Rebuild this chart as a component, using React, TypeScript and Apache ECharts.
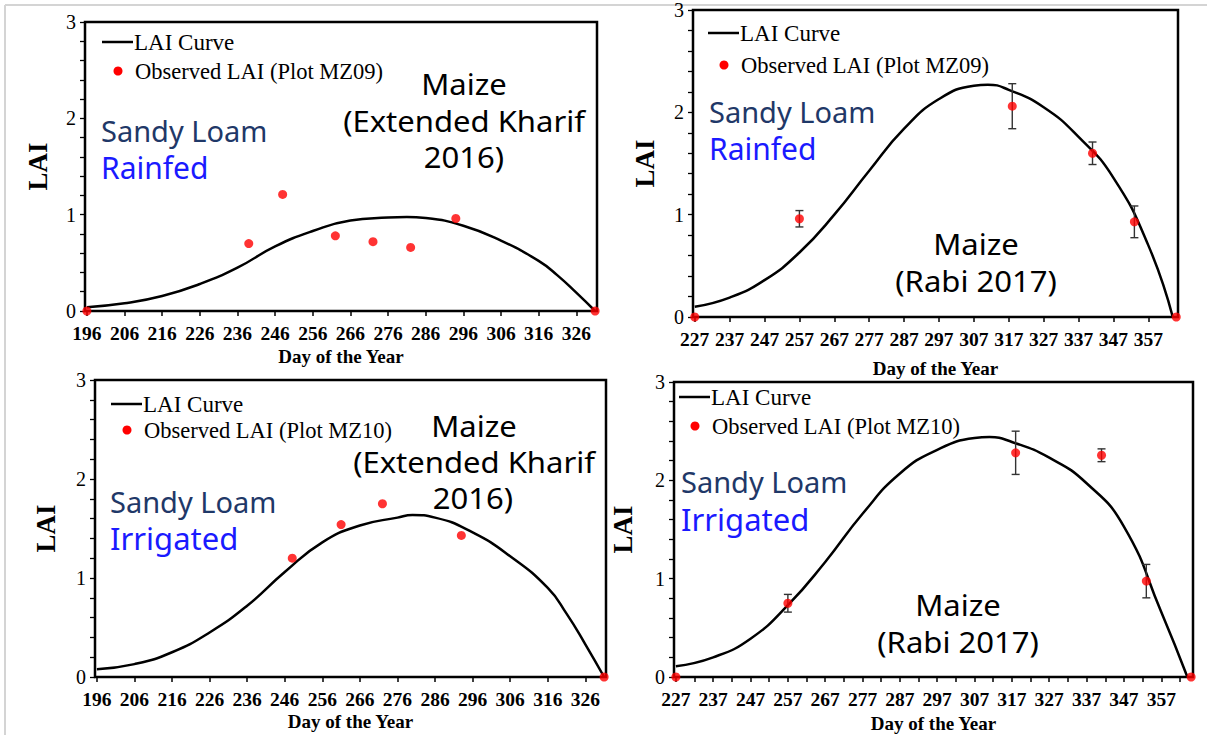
import React, { useEffect, useRef } from "react";
import * as echarts from "echarts";

// ---------- DATA ----------
// Extended Kharif 2016 (days 196..331)
const kharifTicks = [196, 206, 216, 226, 236, 246, 256, 266, 276, 286, 296, 306, 316, 326];
// Rabi 2017 (days 227..365)
const rabiTicks = [227, 237, 247, 257, 267, 277, 287, 297, 307, 317, 327, 337, 347, 357];
const rabiMinorTicks = [227, 232, 237, 242, 247, 252, 257, 262, 267, 272, 277, 282, 287, 292, 297, 302, 307, 312, 317, 322, 327, 332, 337, 342, 347, 352, 357, 362];
// LAI axis
const yLabels = [0, 1, 2, 3];
const yTicks = [0, 0.2, 0.4, 0.6, 0.8, 1, 1.2, 1.4, 1.6, 1.8, 2, 2.2, 2.4, 2.6, 2.8, 3];

// Panel 1: Rainfed, Extended Kharif 2016 (MZ09)
const curve1Days = [196, 206, 216, 226, 236, 246, 256, 266, 276, 281, 286, 296, 306, 316, 321, 326, 331];
const curve1Lai = [0.04, 0.08, 0.156, 0.28, 0.45, 0.67, 0.83, 0.94, 0.97, 0.976, 0.965, 0.885, 0.73, 0.52, 0.37, 0.19, 0];
const obs1Days = [196, 239, 248, 262, 272, 282, 294, 331];
const obs1Lai = [0, 0.7, 1.21, 0.78, 0.72, 0.66, 0.96, 0];

// Panel 2: Rainfed, Rabi 2017 (MZ09)
const curve2Days = [227, 237, 247, 257, 267, 277, 287, 297, 307, 311, 317, 327, 337, 347, 357, 364];
const curve2Lai = [0.1, 0.19, 0.36, 0.63, 1.0, 1.43, 1.84, 2.13, 2.26, 2.27, 2.22, 2.05, 1.76, 1.36, 0.7, 0];
const obs2Days = [227, 257, 318, 341, 353, 365];
const obs2Lai = [0, 0.96, 2.06, 1.6, 0.93, 0];
const err2Days = [257, 318, 341, 353];
const err2Mean = [0.96, 2.06, 1.6, 0.93];
const err2Sd = [0.08, 0.22, 0.11, 0.155];

// Panel 3: Irrigated, Extended Kharif 2016 (MZ10)
const curve3Days = [196, 206, 216, 226, 236, 246, 256, 266, 276, 280, 286, 296, 306, 316, 321, 326, 331];
const curve3Lai = [0.078, 0.13, 0.25, 0.45, 0.72, 1.06, 1.36, 1.53, 1.61, 1.636, 1.61, 1.46, 1.22, 0.9, 0.64, 0.33, 0];
const obs3Days = [248, 261, 272, 293, 331];
const obs3Lai = [1.2, 1.54, 1.75, 1.43, 0];

// Panel 4: Irrigated, Rabi 2017 (MZ10)
const curve4Days = [227, 237, 247, 257, 267, 277, 287, 297, 307, 311, 317, 327, 337, 347, 357, 364];
const curve4Lai = [0.11, 0.2, 0.39, 0.73, 1.17, 1.66, 2.07, 2.31, 2.43, 2.44, 2.39, 2.23, 1.97, 1.53, 0.66, 0];
const obs4Days = [227, 257, 318, 341, 353, 365];
const obs4Lai = [0, 0.75, 2.28, 2.255, 0.975, 0];
const err4Days = [257, 318, 341, 353];
const err4Mean = [0.75, 2.28, 2.255, 0.975];
const err4Sd = [0.09, 0.22, 0.065, 0.17];

// ---------- helpers ----------
const SERIF = '"Liberation Serif", "Times New Roman", serif';
const COMIC = '"Comic Sans MS", "Noto Sans", sans-serif';

const pairs = (xs: number[], ys: number[]) => xs.map((x, i) => [x, ys[i]]);
const errData = (xs: number[], m: number[], s: number[]) => xs.map((x, i) => [x, m[i] - s[i], m[i] + s[i]]);

function makeX(grid: number, min: number, max: number, labels: number[], ticks: number[], nameGap: number) {
  return {
    type: "value",
    gridIndex: grid,
    min,
    max,
    axisLine: { show: true, onZero: false, lineStyle: { color: "#000", width: 2 } },
    axisTick: { show: true, customValues: ticks, length: 5, lineStyle: { color: "#000", width: 1.5 } },
    axisLabel: {
      show: true,
      customValues: labels,
      margin: 12,
      color: "#000",
      fontFamily: SERIF,
      fontWeight: "bold",
      fontSize: 19.5,
    },
    splitLine: { show: false },
    name: "Day of the Year",
    nameLocation: "middle",
    nameGap,
    nameTextStyle: { color: "#000", fontFamily: SERIF, fontWeight: "bold", fontSize: 19 },
  };
}

function makeY(grid: number, nameGap: number) {
  return {
    type: "value",
    gridIndex: grid,
    min: 0,
    max: 3,
    axisLine: { show: true, onZero: false, lineStyle: { color: "#000", width: 2 } },
    axisTick: { show: true, customValues: yTicks, length: 5, lineStyle: { color: "#000", width: 1.3 } },
    axisLabel: { customValues: yLabels, margin: 9, color: "#000", fontFamily: SERIF, fontSize: 20 },
    splitLine: { show: false },
    name: "LAI",
    nameLocation: "middle",
    nameGap,
    nameTextStyle: { color: "#000", fontFamily: SERIF, fontWeight: "bold", fontSize: 27 },
  };
}

function curveSeries(idx: number, data: number[][]) {
  return {
    type: "line",
    name: "LAI Curve",
    xAxisIndex: idx,
    yAxisIndex: idx,
    data,
    smooth: 0.5,
    showSymbol: false,
    symbol: "none",
    lineStyle: { color: "#000", width: 2.5 },
    z: 3,
  };
}

function obsSeries(idx: number, data: number[][]) {
  return {
    type: "scatter",
    name: "Observed LAI",
    xAxisIndex: idx,
    yAxisIndex: idx,
    data,
    symbol: "circle",
    symbolSize: 9,
    itemStyle: { color: "#ff0000" },
    clip: false,
    z: 5,
  };
}

function errSeries(idx: number, data: number[][]) {
  return {
    type: "custom",
    xAxisIndex: idx,
    yAxisIndex: idx,
    data,
    encode: { x: 0, y: [1, 2] },
    z: 4,
    renderItem: (params: any, api: any) => {
      const x = api.value(0);
      const lo = api.coord([x, api.value(1)]);
      const hi = api.coord([x, api.value(2)]);
      const w = 4;
      const style = { stroke: "#333", lineWidth: 1.4 };
      return {
        type: "group",
        children: [
          { type: "line", shape: { x1: hi[0], y1: hi[1], x2: lo[0], y2: lo[1] }, style },
          { type: "line", shape: { x1: hi[0] - w, y1: hi[1], x2: hi[0] + w, y2: hi[1] }, style },
          { type: "line", shape: { x1: lo[0] - w, y1: lo[1], x2: lo[0] + w, y2: lo[1] }, style },
        ],
      };
    },
  };
}

function legend(x: number, y1: number, y2: number, label: string) {
  return [
    { type: "line", shape: { x1: x, y1, x2: x + 31, y2: y1 }, style: { stroke: "#000", lineWidth: 2.5 } },
    { type: "text", x: x + 32, y: y1, style: { text: "LAI Curve", font: `23px ${SERIF}`, fill: "#000", textVerticalAlign: "middle" } },
    { type: "circle", shape: { cx: x + 16, cy: y2, r: 4.5 }, style: { fill: "#ff0000" } },
    { type: "text", x: x + 33, y: y2, style: { text: label, font: `22.5px ${SERIF}`, fill: "#000", textVerticalAlign: "middle" } },
  ];
}

function note(x: number, y: number, text: string, fill: string, size: number) {
  return {
    type: "text",
    x,
    y,
    style: { text, font: `${size}px ${COMIC}`, fill, textAlign: "left", textVerticalAlign: "middle" },
  };
}

// one centred line of the crop/season label (slightly widened, as Comic Sans is wider)
function line(cx: number, cy: number, text: string) {
  return {
    type: "text",
    x: cx,
    y: cy,
    scaleX: 1.07,
    style: { text, font: `29px ${COMIC}`, fill: "#000", textAlign: "center", textVerticalAlign: "middle" },
  };
}

const NAVY = "#1f3868";
const BLUE = "#1a1aff";

export default function App() {
  const ref = useRef<HTMLDivElement>(null);

  useEffect(() => {
    if (!ref.current) return;
    const chart = echarts.init(ref.current, undefined, { renderer: "svg" });
    const option: any = {
      animation: false,
      backgroundColor: "#fff",
      grid: [
        { left: 85, top: 22, width: 512, height: 289, show: true, borderColor: "#000", borderWidth: 2.5, backgroundColor: "transparent" },
        { left: 693, top: 9, width: 485, height: 308, show: true, borderColor: "#000", borderWidth: 2.5, backgroundColor: "transparent" },
        { left: 95, top: 380, width: 511, height: 297, show: true, borderColor: "#000", borderWidth: 2.5, backgroundColor: "transparent" },
        { left: 674, top: 382, width: 519, height: 295, show: true, borderColor: "#000", borderWidth: 2.5, backgroundColor: "transparent" },
      ],
      xAxis: [
        makeX(0, 195.5, 331.5, kharifTicks, kharifTicks, 36),
        makeX(1, 226.5, 365.5, rabiTicks, rabiTicks, 42),
        makeX(2, 195.5, 331.5, kharifTicks, kharifTicks, 35),
        makeX(3, 226.5, 365.5, rabiTicks, rabiMinorTicks, 37),
      ],
      yAxis: [makeY(0, 34), makeY(1, 35), makeY(2, 36), makeY(3, 38)],
      series: [
        curveSeries(0, pairs(curve1Days, curve1Lai)),
        obsSeries(0, pairs(obs1Days, obs1Lai)),
        curveSeries(1, pairs(curve2Days, curve2Lai)),
        errSeries(1, errData(err2Days, err2Mean, err2Sd)),
        obsSeries(1, pairs(obs2Days, obs2Lai)),
        curveSeries(2, pairs(curve3Days, curve3Lai)),
        obsSeries(2, pairs(obs3Days, obs3Lai)),
        curveSeries(3, pairs(curve4Days, curve4Lai)),
        errSeries(3, errData(err4Days, err4Mean, err4Sd)),
        obsSeries(3, pairs(obs4Days, obs4Lai)),
      ],
      graphic: [
        // page frame lines
        { type: "line", shape: { x1: 5, y1: 5, x2: 1207, y2: 5 }, style: { stroke: "#d4d4d4", lineWidth: 2 } },
        { type: "line", shape: { x1: 5, y1: 5, x2: 5, y2: 735 }, style: { stroke: "#d4d4d4", lineWidth: 2 } },
        // legends
        ...legend(102, 42, 71, "Observed LAI (Plot MZ09)"),
        ...legend(708, 33, 65, "Observed LAI (Plot MZ09)"),
        ...legend(111, 404, 430, "Observed LAI (Plot MZ10)"),
        ...legend(679, 397, 426, "Observed LAI (Plot MZ10)"),
        // panel 1 notes
        note(101, 130, "Sandy Loam", NAVY, 29),
        note(101, 167, "Rainfed", BLUE, 30),
        line(464, 84, "Maize"),
        line(464, 121, "(Extended Kharif"),
        line(464, 157, "2016)"),
        // panel 2 notes
        note(709, 111, "Sandy Loam", NAVY, 29),
        note(709, 148, "Rainfed", BLUE, 30),
        line(976, 244, "Maize"),
        line(976, 281, "(Rabi 2017)"),
        // panel 3 notes
        note(110, 501, "Sandy Loam", NAVY, 29),
        note(110, 538, "Irrigated", BLUE, 31),
        line(474, 426, "Maize"),
        line(474, 462, "(Extended Kharif"),
        line(473, 498, "2016)"),
        // panel 4 notes
        note(681, 481, "Sandy Loam", NAVY, 29),
        note(681, 519, "Irrigated", BLUE, 31),
        line(958, 605, "Maize"),
        line(958, 642, "(Rabi 2017)"),
      ],
    };
    chart.setOption(option);
    return () => chart.dispose();
  }, []);

  return (
    <div
      ref={ref}
      style={{ position: "absolute", left: 0, top: 0, width: 1207, height: 735, background: "#fff" }}
    />
  );
}
